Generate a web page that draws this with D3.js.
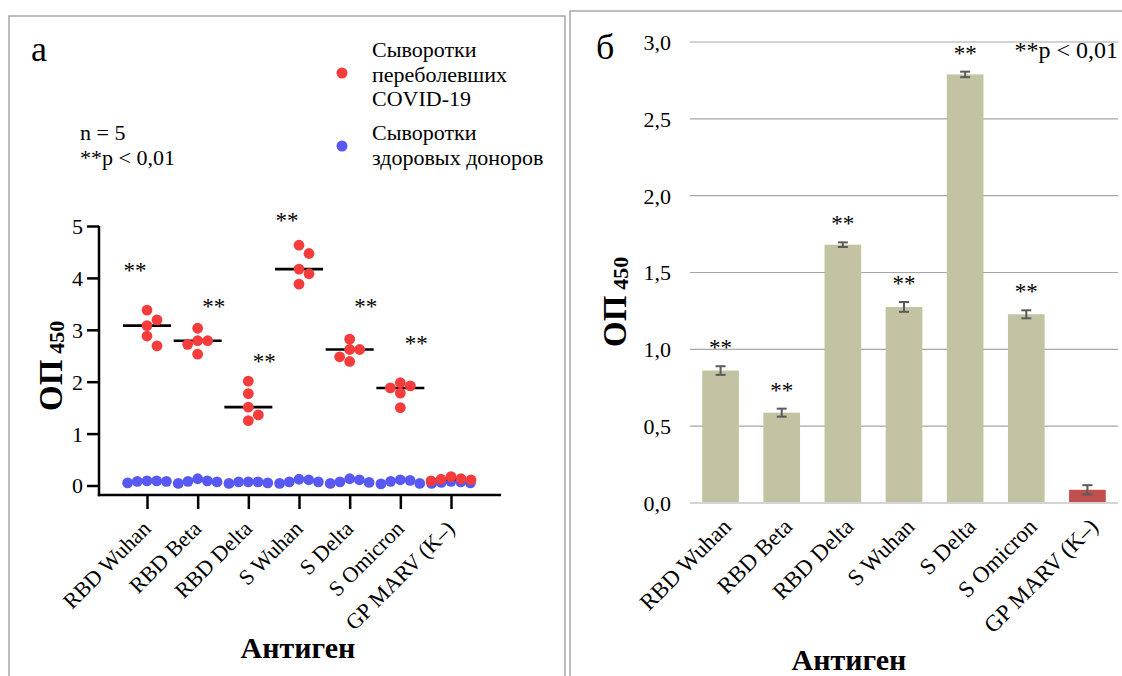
<!DOCTYPE html>
<html><head><meta charset="utf-8">
<script src="https://cdn.jsdelivr.net/npm/d3@7"></script>
<style>
body{margin:0;background:#fff}
svg{display:block}
text{font-family:"Liberation Serif","Times New Roman",serif;fill:#000}
</style>
</head><body>
<svg id="chart" width="1122" height="676"></svg>
<script>
// ---------- DATA ----------
const antigens = ["RBD Wuhan","RBD Beta","RBD Delta","S Wuhan","S Delta","S Omicron","GP MARV (K–)"];
// panel а: OD450 of individual sera (n = 5)
const covidSera = [
  [3.38,3.19,3.08,2.88,2.69],
  [3.03,2.79,2.79,2.72,2.53],
  [2.01,1.77,1.51,1.36,1.25],
  [4.63,4.47,4.17,4.08,3.88],
  [2.82,2.62,2.62,2.48,2.39],
  [1.98,1.92,1.88,1.78,1.50],
  [0.17,0.13,0.12,0.11,0.09]
];
const healthySera = [
  [0.08,0.09,0.08,0.09,0.05],
  [0.07,0.13,0.08,0.09,0.04],
  [0.05,0.07,0.07,0.07,0.04],
  [0.07,0.12,0.07,0.11,0.04],
  [0.06,0.13,0.07,0.11,0.04],
  [0.04,0.11,0.08,0.10,0.03],
  [0.08,0.05,0.04,0.07,0.06]
];
const yTicksA = [0,1,2,3,4,5];
const starLevelsA = [4.21,3.52,2.46,5.17,3.52,2.80];   // height of "**" labels (OD units)
const starSideA = [-1,1,1,-1,1,1];
// panel б: mean OD450 ± error
const barMeans  = [0.862,0.588,1.681,1.276,2.789,1.228,0.086];
const barErrors = [0.028,0.026,0.015,0.032,0.018,0.026,0.030];
const barSignificant = [true,true,true,true,true,true,false];
const yTicksB = [0,0.5,1,1.5,2,2.5,3];

// ---------- SETUP ----------
const svg = d3.select("#chart");
const serif = '"Liberation Serif","Times New Roman",serif';

// panel frames
svg.append("rect").attr("x",9).attr("y",16).attr("width",556).attr("height",720)
  .attr("fill","none").attr("stroke","#a8a8a8").attr("stroke-width",1.5);
svg.append("rect").attr("x",570).attr("y",11).attr("width",620).attr("height",720)
  .attr("fill","none").attr("stroke","#a8a8a8").attr("stroke-width",1.5);

// ================= PANEL а =================
const gA = svg.append("g");
const xA = d3.scalePoint().domain(antigens).range([147,451]);
const yA = d3.scaleLinear().domain([0,5]).range([485.5,226]);
const axisYA = 99, axisXA = 495;

gA.append("text").attr("x",31).attr("y",61).style("font-size","36px").text("а");

// axes lines
gA.append("line").attr("x1",axisYA).attr("x2",axisYA).attr("y1",yA(5)).attr("y2",axisXA+1.2)
  .attr("stroke","#000").attr("stroke-width",2.5);
gA.append("line").attr("x1",axisYA-1.2).attr("x2",501).attr("y1",axisXA).attr("y2",axisXA)
  .attr("stroke","#000").attr("stroke-width",2.5);

// y axis ticks
const yAxA = gA.append("g").attr("transform",`translate(${axisYA},0)`)
  .call(d3.axisLeft(yA).tickValues(yTicksA).tickSize(12).tickPadding(4).tickFormat(d3.format("d")));
yAxA.select(".domain").remove();
yAxA.selectAll("line").attr("stroke","#000").attr("stroke-width",2.5);
yAxA.selectAll("text").style("font-family",serif).style("font-size","22px").attr("fill","#000").attr("dy","0.34em");

// x axis ticks
const xAxA = gA.append("g").attr("transform",`translate(0,${axisXA})`)
  .call(d3.axisBottom(xA).tickSize(14).tickFormat(""));
xAxA.select(".domain").remove();
xAxA.selectAll("line").attr("stroke","#000").attr("stroke-width",2.5);
gA.selectAll(".xlabA").data(antigens).join("text")
  .attr("transform",d=>`translate(${xA(d)+5},530) rotate(-45)`)
  .attr("text-anchor","end").style("font-size","22px").text(d=>d);

// beeswarm-like dodge
function dodge(vals, cx, step, minDist){
  const order = vals.map((v,i)=>i).sort((a,b)=>vals[b]-vals[a]);
  const placed = [], res = new Array(vals.length);
  order.forEach(i=>{
    const py = yA(vals[i]);
    for(let k=0;k<30;k++){
      const off = k===0?0:(k%2?Math.ceil(k/2):-k/2);
      const px = cx+off*step;
      if(placed.every(p=>Math.hypot(p.x-px,p.y-py)>=minDist)){placed.push({x:px,y:py});res[i]={x:px,y:py};break;}
    }
  });
  return res;
}
const rDot = 5.4;
antigens.forEach((a,i)=>{
  const cx = xA(a);
  const blue = dodge(healthySera[i],cx,9.7,9.6);
  gA.selectAll(null).data(blue).join("circle").attr("cx",d=>d.x).attr("cy",d=>d.y).attr("r",rDot).attr("fill","#5858f4");
});
antigens.forEach((a,i)=>{
  const cx = xA(a);
  const med = d3.median(covidSera[i]);
  gA.append("line").attr("x1",cx-24).attr("x2",cx+24).attr("y1",yA(med)).attr("y2",yA(med))
    .attr("stroke","#000").attr("stroke-width",2.6);
  const red = dodge(covidSera[i],cx,10,9.95);
  gA.selectAll(null).data(red).join("circle").attr("cx",d=>d.x).attr("cy",d=>d.y).attr("r",rDot).attr("fill","#f43c3c");
});
// significance stars
starLevelsA.forEach((lv,i)=>{
  gA.append("text").attr("x",xA(antigens[i])+(starSideA[i]<0?-12:16)).attr("y",yA(lv)+11)
    .attr("text-anchor","middle").style("font-size","23px").attr("fill","#333").text("**");
});

// y title
const ytA = gA.append("text").attr("transform","translate(62,411) rotate(-90)").style("font-weight","bold");
ytA.append("tspan").style("font-size","33px").text("ОП");
ytA.append("tspan").attr("dx",6).attr("dy",2).style("font-size","22px").text("450");
// x title
gA.append("text").attr("x",298).attr("y",658).attr("text-anchor","middle")
  .style("font-size","30px").style("font-weight","bold").text("Антиген");

// notes + legend
gA.append("text").attr("x",80).attr("y",140).style("font-size","22px").text("n = 5");
gA.append("text").attr("x",80).attr("y",165).style("font-size","22px").text("**p < 0,01");
gA.append("circle").attr("cx",342).attr("cy",73).attr("r",5.5).attr("fill","#f43c3c");
gA.append("circle").attr("cx",342).attr("cy",146).attr("r",5.5).attr("fill","#5858f4");
[["Сыворотки",57],["переболевших",82],["COVID-19",106],["Сыворотки",140],["здоровых доноров",165]]
  .forEach(([t,y])=>gA.append("text").attr("x",372).attr("y",y).style("font-size","22px").text(t));

// ================= PANEL б =================
const gB = svg.append("g");
const xB = d3.scaleBand().domain(antigens).range([690,1118]).paddingInner(0.4).paddingOuter(0.2);
const yB = d3.scaleLinear().domain([0,3]).range([503,42]);

gB.append("text").attr("x",596).attr("y",59).style("font-size","36px").text("б");

// gridlines
gB.selectAll(".grid").data(yTicksB.filter(d=>d>0)).join("line")
  .attr("x1",690).attr("x2",1118).attr("y1",d=>yB(d)).attr("y2",d=>yB(d))
  .attr("stroke","#a6a6a6").attr("stroke-width",1.2);
// y labels
const fmt = d=>d3.format(".1f")(d).replace(".",",");
const yAxB = gB.append("g").attr("transform","translate(690,0)")
  .call(d3.axisLeft(yB).tickValues(yTicksB).tickSize(0).tickPadding(19).tickFormat(fmt));
yAxB.select(".domain").remove();
yAxB.selectAll("text").style("font-family",serif).style("font-size","22px").attr("fill","#000").attr("dy","0.34em");

// bars
gB.selectAll(".bar").data(barMeans).join("rect")
  .attr("x",(d,i)=>xB(antigens[i])).attr("width",xB.bandwidth())
  .attr("y",d=>yB(d)).attr("height",d=>yB(0)-yB(d))
  .attr("fill",(d,i)=>i===antigens.length-1?"#c0504d":"#c3c2a2");
// baseline
gB.append("line").attr("x1",690).attr("x2",1118).attr("y1",yB(0)).attr("y2",yB(0))
  .attr("stroke","#d4d4d4").attr("stroke-width",2);
// error bars
barMeans.forEach((m,i)=>{
  const cx = xB(antigens[i])+xB.bandwidth()/2, e = barErrors[i];
  const g = gB.append("g").attr("stroke","#5a5a5a").attr("stroke-width",2);
  g.append("line").attr("x1",cx).attr("x2",cx).attr("y1",yB(m-e)).attr("y2",yB(m+e));
  g.append("line").attr("x1",cx-5).attr("x2",cx+5).attr("y1",yB(m-e)).attr("y2",yB(m-e));
  g.append("line").attr("x1",cx-5).attr("x2",cx+5).attr("y1",yB(m+e)).attr("y2",yB(m+e));
  if(barSignificant[i]){
    gB.append("text").attr("x",cx).attr("y",yB(m+e)-11).attr("text-anchor","middle")
      .style("font-size","23px").attr("fill","#333").text("**");
  }
});
// x labels
gB.selectAll(".xlabB").data(antigens).join("text")
  .attr("transform",d=>`translate(${xB(d)+xB.bandwidth()/2+12},528) rotate(-45)`)
  .attr("text-anchor","end").style("font-size","23px").text(d=>d);
// titles
const ytB = gB.append("text").attr("transform","translate(626,347) rotate(-90)").style("font-weight","bold");
ytB.append("tspan").style("font-size","33px").text("ОП");
ytB.append("tspan").attr("dx",6).attr("dy",2).style("font-size","22px").text("450");
gB.append("text").attr("x",849).attr("y",670).attr("text-anchor","middle")
  .style("font-size","30px").style("font-weight","bold").text("Антиген");
gB.append("text").attr("x",1118).attr("y",58).attr("text-anchor","end").style("font-size","24px").text("**p < 0,01");
</script>
</body></html>
